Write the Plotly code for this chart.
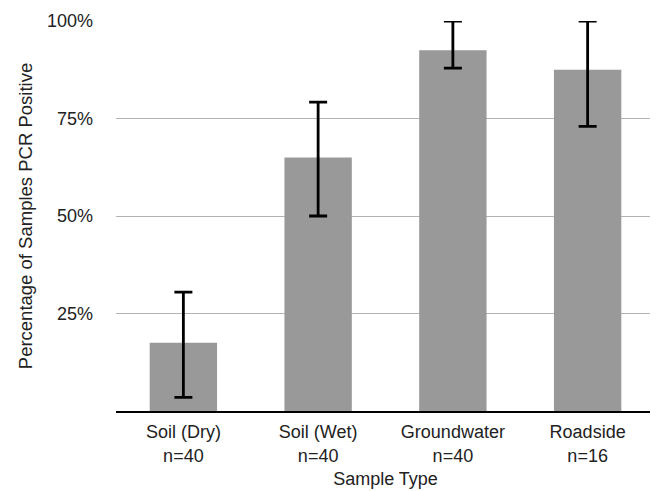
import plotly.graph_objects as go

categories = ["Soil (Dry)", "Soil (Wet)", "Groundwater", "Roadside"]
sample_n = ["n=40", "n=40", "n=40", "n=16"]
percent_positive = [17.5, 65.0, 92.5, 87.5]
ci_upper = [30.5, 79.2, 100.0, 100.0]
ci_lower = [3.5, 50.0, 87.9, 73.0]
y_ticks = [25, 50, 75, 100]
y_tick_labels = ["25%", "50%", "75%", "100%"]

labels = [f"{c}<br>{n}" for c, n in zip(categories, sample_n)]
err_plus = [u - v for u, v in zip(ci_upper, percent_positive)]
err_minus = [v - l for v, l in zip(percent_positive, ci_lower)]

font_family = "Liberation Sans, Arial, sans-serif"
text_color = "#222222"

fig = go.Figure(
    go.Bar(
        x=labels,
        y=percent_positive,
        marker=dict(color="#999999", line=dict(width=0)),
        error_y=dict(
            type="data",
            symmetric=False,
            array=err_plus,
            arrayminus=err_minus,
            color="#000000",
            thickness=2.8,
            width=9,
        ),
    )
)

fig.update_layout(
    width=650,
    height=483,
    margin=dict(l=108, r=3, t=11, b=80),
    paper_bgcolor="white",
    plot_bgcolor="white",
    bargap=0.5,
    showlegend=False,
    font=dict(family=font_family, size=18, color=text_color),
    xaxis=dict(
        title=dict(text="Sample Type", font=dict(size=18, color=text_color), standoff=8),
        showline=True,
        linecolor="#000000",
        linewidth=1.5,
        showgrid=False,
        ticks="",
        ticklabelstandoff=4,
        tickfont=dict(size=18, color=text_color),
    ),
    yaxis=dict(
        title=dict(text="Percentage of Samples PCR Positive", font=dict(size=18.5, color=text_color), standoff=9),
        range=[0, 100],
        tickvals=y_ticks,
        ticktext=y_tick_labels,
        showgrid=True,
        gridcolor="#b3b3b3",
        gridwidth=1.3,
        zeroline=False,
        showline=False,
        ticks="",
        ticklabelstandoff=22,
        tickfont=dict(size=18, color=text_color),
    ),
)

fig.write_html("out.html")
